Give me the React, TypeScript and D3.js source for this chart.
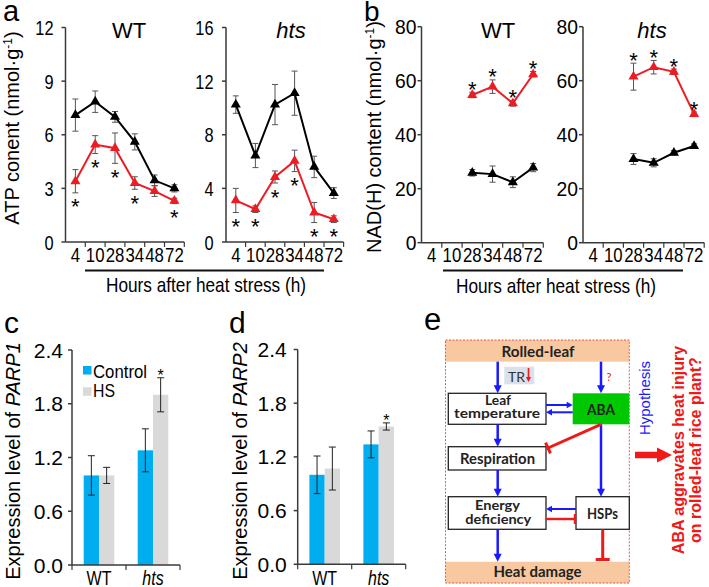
import React from 'react'
import * as d3 from 'd3'

// ---- values ----
const hours = ['4', '10', '28', '34', '48', '72']

// a: ATP content, black = control, red = heat stress
const atpWtCtrl = [7.1, 7.85, 7.0, 5.6, 3.45, 3.0]
const atpWtCtrlErr = [0.9, 0.6, 0.3, 0.45, 0.3, 0.2]
const atpWtHs = [3.4, 5.45, 5.25, 3.3, 2.85, 2.3]
const atpWtHsErr = [0.65, 0.5, 0.85, 0.35, 0.3, 0.15]
const atpWtSig = [1, 1, 1, 1, 0, 1]

const atpHtsCtrl = [10.25, 6.45, 10.25, 11.1, 5.6, 3.65]
const atpHtsCtrlErr = [0.65, 0.9, 1.5, 1.65, 0.8, 0.4]
const atpHtsHs = [3.1, 2.45, 4.85, 6.05, 2.2, 1.7]
const atpHtsHsErr = [0.9, 0.25, 0.45, 0.8, 0.75, 0.25]
const atpHtsSig = [1, 1, 1, 1, 1, 1]

// b: NAD(H) content, only from 28 h on
const nadWtCtrl = [null, null, 25.9, 25.4, 22.4, 27.8]
const nadWtCtrlErr = [0, 0, 1.2, 3, 2, 1.5]
const nadWtHs = [null, null, 54.7, 57.8, 51.6, 62.4]
const nadWtHsErr = [0, 0, 1, 2.5, 1, 1]
const nadWtSig = [0, 0, 1, 1, 1, 1]

const nadHtsCtrl = [null, null, 31, 29.6, 33.3, 35.8]
const nadHtsCtrlErr = [0, 0, 2, 1.5, 0.8, 0.8]
const nadHtsHs = [null, null, 61.5, 65, 63.3, 47.6]
const nadHtsHsErr = [0, 0, 5, 2.5, 1, 0.8]
const nadHtsSig = [0, 0, 1, 1, 1, 1]

const atpWtTicks = [0, 3, 6, 9, 12]
const atpHtsTicks = [0, 4, 8, 12, 16]
const nadTicks = [0, 20, 40, 60, 80]

// c, d: relative expression
const groups = ['WT', 'hts']
const parp1Ctrl = [1.0, 1.28]
const parp1CtrlErr = [0.22, 0.24]
const parp1Hs = [1.0, 1.9]
const parp1HsErr = [0.09, 0.19]
const parp1Sig = [0, 1]
const parp2Ctrl = [1.0, 1.34]
const parp2CtrlErr = [0.21, 0.15]
const parp2Hs = [1.07, 1.54]
const parp2HsErr = [0.24, 0.04]
const parp2Sig = [0, 1]
const exprTicks = [0, 0.6, 1.2, 1.8, 2.4]

const FONT = '"Liberation Sans", Arial, Helvetica, sans-serif'
const DFONT = 'Lato, "Open Sans", sans-serif'
const RED = '#ec1c24'
const AXIS = '#3a3a3a'
const ERR = '#555'
const BAR_BLUE = '#00aeef'
const BAR_GRAY = '#d9d9d9'
const BLUE = '#1a1aff'
const ERED = '#f01818'

function SText({ x, y, size = 21, anchor = 'middle', sx = 1, italic = false, bold = false, fill = '#000', family = FONT, len, children }: any) {
  return (
    <text
      transform={`translate(${x},${y}) scale(${sx},1)`}
      fontSize={size}
      textAnchor={anchor}
      fontStyle={italic ? 'italic' : 'normal'}
      fontWeight={bold ? 'bold' : 'normal'}
      fill={fill}
      fontFamily={family}
      textLength={len}
      lengthAdjust={len ? 'spacingAndGlyphs' : undefined}
    >
      {children}
    </text>
  )
}

// rotated y label, reads bottom to top
function RText({ x, y, size = 20, sy = 1, fill = '#000', bold = false, family = FONT, children }: any) {
  return (
    <text
      transform={`translate(${x},${y}) rotate(-90) scale(1,${sy})`}
      fontSize={size}
      textAnchor="middle"
      fill={fill}
      fontWeight={bold ? 'bold' : 'normal'}
      fontFamily={family}
    >
      {children}
    </text>
  )
}

function LinePanel(p: any) {
  const xEnd = p.x0 + p.band * hours.length
  const x = d3.scaleBand<string>().domain(hours).range([p.x0, xEnd])
  const y = d3.scaleLinear().domain([0, p.yMax]).range([p.yBot, p.yTop])
  const cx = (i: number) => (x(hours[i]) as number) + x.bandwidth() / 2
  const line = d3
    .line<number | null>()
    .defined(v => v != null)
    .x((_, i) => cx(i))
    .y(v => y(v as number))
  const tri = d3.symbol().type(d3.symbolTriangle).size(44)() as string
  const series = [
    { vals: p.ctrl, err: p.ctrlErr, color: '#000' },
    { vals: p.hs, err: p.hsErr, color: RED },
  ]

  return (
    <g>
      <line x1={p.x0} x2={p.x0} y1={p.yTop} y2={p.yBot} stroke={AXIS} strokeWidth={1.5} />
      {p.ticks.map((t: number) => (
        <g key={t}>
          <line x1={p.x0 - 4} x2={p.x0} y1={y(t)} y2={y(t)} stroke={AXIS} strokeWidth={1.5} />
          <SText x={p.x0 - p.tickGap} y={y(t) + 7.5} anchor="end" sx={p.tickSx}>
            {t}
          </SText>
        </g>
      ))}
      <line x1={p.x0} x2={xEnd} y1={p.yBot} y2={p.yBot} stroke={AXIS} strokeWidth={1.5} />
      {hours.map(h => (
        <line key={h} x1={(x(h) as number) + x.bandwidth()} x2={(x(h) as number) + x.bandwidth()} y1={p.yBot} y2={p.yBot + 5} stroke={AXIS} strokeWidth={1.2} />
      ))}
      {hours.map((h, i) => (
        <SText key={h} x={cx(i)} y={262} sx={0.8}>
          {h}
        </SText>
      ))}
      <SText x={p.titleX} y={38} size={22} italic={p.italic}>
        {p.title}
      </SText>

      {series.map((s, si) => (
        <g key={si}>
          {s.vals.map((v: number | null, i: number) =>
            v == null ? null : (
              <g key={i} stroke={ERR} strokeWidth={1}>
                <line x1={cx(i)} x2={cx(i)} y1={y(v - s.err[i])} y2={y(v + s.err[i])} />
                <line x1={cx(i) - 3} x2={cx(i) + 3} y1={y(v - s.err[i])} y2={y(v - s.err[i])} />
                <line x1={cx(i) - 3} x2={cx(i) + 3} y1={y(v + s.err[i])} y2={y(v + s.err[i])} />
              </g>
            )
          )}
        </g>
      ))}
      {series.map((s, si) => (
        <g key={si}>
          <path d={line(s.vals) as string} fill="none" stroke={s.color} strokeWidth={2} />
          {s.vals.map((v: number | null, i: number) =>
            v == null ? null : <path key={i} d={tri} transform={`translate(${cx(i)},${y(v)})`} fill={s.color} />
          )}
        </g>
      ))}
      {p.hs.map((v: number | null, i: number) => {
        if (v == null || !p.sig[i]) return null
        const c = p.sigAbove ? y(v + p.hsErr[i]) - 8 : y(v - p.hsErr[i]) + 9
        return (
          <SText key={i} x={cx(i)} y={c + 12.5} size={22}>
            *
          </SText>
        )
      })}
    </g>
  )
}

function BarPanel(p: any) {
  const xEnd = p.x0 + 108
  const x = d3.scaleBand<string>().domain(groups).range([p.x0, xEnd])
  const inner = d3.scaleBand<string>().domain(['c', 'h']).range([0, 30.6])
  const y = d3.scaleLinear().domain([0, 2.4]).range([p.yBot, p.yTop])
  const fmt = d3.format('.1f')
  const gx = (g: string) => (x(g) as number) + x.bandwidth() / 2
  const sets = [
    { k: 'c', vals: p.ctrl, err: p.ctrlErr, color: BAR_BLUE },
    { k: 'h', vals: p.hs, err: p.hsErr, color: BAR_GRAY },
  ]
  return (
    <g>
      {sets.map(s =>
        groups.map((g, i) => {
          const bx = gx(g) - 15.3 + (inner(s.k) as number)
          return <rect key={s.k + g} x={bx} y={y(s.vals[i])} width={inner.bandwidth()} height={p.yBot - y(s.vals[i])} fill={s.color} />
        })
      )}
      {sets.map(s =>
        groups.map((g, i) => {
          const bx = gx(g) - 15.3 + (inner(s.k) as number) + inner.bandwidth() / 2
          const lo = y(s.vals[i] - s.err[i])
          const hi = y(s.vals[i] + s.err[i])
          return (
            <g key={'e' + s.k + g} stroke="#222" strokeWidth={1}>
              <line x1={bx} x2={bx} y1={lo} y2={hi} />
              <line x1={bx - 3.5} x2={bx + 3.5} y1={lo} y2={lo} />
              <line x1={bx - 3.5} x2={bx + 3.5} y1={hi} y2={hi} />
            </g>
          )
        })
      )}
      {groups.map((g, i) =>
        p.sig[i] ? (
          <SText key={g} x={gx(g) - 15.3 + (inner('h') as number) + inner.bandwidth() / 2} y={y(p.hs[i] + p.hsErr[i]) - 6 + 9} size={16}>
            *
          </SText>
        ) : null
      )}
      <line x1={p.x0} x2={p.x0} y1={p.yTop} y2={p.yBot} stroke={AXIS} strokeWidth={1.5} />
      {exprTicks.map(t => (
        <g key={t}>
          <line x1={p.x0 - 4} x2={p.x0} y1={y(t)} y2={y(t)} stroke={AXIS} strokeWidth={1.5} />
          <SText x={p.x0 - p.tickGap} y={y(t) + 7.5} anchor="end">
            {fmt(t)}
          </SText>
        </g>
      ))}
      <line x1={p.x0} x2={xEnd} y1={p.yBot} y2={p.yBot} stroke={AXIS} strokeWidth={1.5} />
      {[p.x0, p.x0 + 54, xEnd].map(t => (
        <line key={t} x1={t} x2={t} y1={p.yBot} y2={p.yBot + 5} stroke={AXIS} strokeWidth={1.2} />
      ))}
      {groups.map((g, i) => (
        <SText key={g} x={gx(g)} y={585} size={20} sx={0.8} italic={i === 1}>
          {g}
        </SText>
      ))}
    </g>
  )
}

function Arrow({ x1, y1, x2, y2, color = BLUE, w = 2.5, head = 8, hw = 4 }: any) {
  const dx = x2 - x1
  const dy = y2 - y1
  const L = Math.hypot(dx, dy)
  const ux = dx / L
  const uy = dy / L
  const bx = x2 - ux * head
  const by = y2 - uy * head
  const pts = `${x2},${y2} ${bx - uy * hw},${by + ux * hw} ${bx + uy * hw},${by - ux * hw}`
  return (
    <g>
      <line x1={x1} y1={y1} x2={bx + ux} y2={by + uy} stroke={color} strokeWidth={w} />
      <polygon points={pts} fill={color} />
    </g>
  )
}

function Inhibit({ x1, y1, x2, y2, color = ERED, w = 3, bar = 6 }: any) {
  const dx = x2 - x1
  const dy = y2 - y1
  const L = Math.hypot(dx, dy)
  const px = -dy / L
  const py = dx / L
  return (
    <g stroke={color} strokeWidth={w}>
      <line x1={x1} y1={y1} x2={x2} y2={y2} />
      <line x1={x2 - px * bar} y1={y2 - py * bar} x2={x2 + px * bar} y2={y2 + py * bar} />
    </g>
  )
}

function Diagram() {
  const box = { fill: '#fff', stroke: '#222', strokeWidth: 1.3 }
  return (
    <g>
      <rect x={445.5} y={340} width={183.8} height={243} fill="#fff" />
      <rect x={445.5} y={340} width={183.8} height={21.7} fill="#f8c9a0" />
      <rect x={445.5} y={561.7} width={183.8} height={21.5} fill="#f8c9a0" />
      <rect x={445.5} y={340} width={183.8} height={243} fill="none" stroke="#e04848" strokeWidth={0.9} strokeDasharray="2,1.5" />

      <rect x={504.3} y={366.7} width={30} height={17.6} fill="#d9e1ec" />
      <SText x={508} y={381.5} size={14} anchor="start" family={DFONT} fill="#333">TR</SText>
      <Arrow x1={528.5} y1={368} x2={528.5} y2={382} color={ERED} w={1.6} head={5} hw={2.6} />
      <SText x={609} y={381} size={11} family={DFONT} fill={ERED}>?</SText>

      <rect x={448.3} y={393.3} width={97.7} height={31} {...box} />
      <rect x={572.7} y={393.3} width={56.6} height={31} fill="#00c800" />
      <rect x={448.3} y={446.7} width={97.7} height={23.3} {...box} />
      <rect x={448.3} y={496.7} width={97.7} height={32.6} {...box} />
      <rect x={576} y={496.7} width={53.3} height={32.6} {...box} />

      <Arrow x1={497.7} y1={361.7} x2={497.7} y2={393.3} />
      <Arrow x1={601} y1={361.7} x2={601} y2={393.3} />
      <Arrow x1={546} y1={405} x2={572.7} y2={405} w={2} head={6} hw={3.2} />
      <Arrow x1={572.7} y1={412.3} x2={546} y2={412.3} w={2} head={6} hw={3.2} />
      <Arrow x1={497.7} y1={424.3} x2={497.7} y2={446.7} />
      <Arrow x1={601} y1={424.3} x2={601} y2={496.7} />
      <Inhibit x1={601} y1={424.3} x2={548} y2={448} />
      <Arrow x1={497.7} y1={470} x2={497.7} y2={496.7} />
      <Arrow x1={576} y1={509} x2={546} y2={509} w={2} head={6} hw={3.2} />
      <Inhibit x1={546} y1={519} x2={575} y2={519} w={2.4} bar={5} />
      <Arrow x1={497.7} y1={529.3} x2={497.7} y2={561.7} />
      <Inhibit x1={602.7} y1={529.3} x2={602.7} y2={559.5} bar={7} />

      <SText x={538} y={356.5} size={15} bold family={DFONT} len={73} fill="#222">Rolled-leaf</SText>
      <SText x={498} y={405} size={14} bold family={DFONT} len={26} fill="#222">Leaf</SText>
      <SText x={497} y={417.5} size={14} bold family={DFONT} len={86} fill="#222">temperature</SText>
      <SText x={601} y={415} size={15} bold family={DFONT} len={28} fill="#222">ABA</SText>
      <SText x={497.5} y={464.3} size={15} bold family={DFONT} len={75} fill="#222">Respiration</SText>
      <SText x={497.5} y={510} size={14} bold family={DFONT} len={45} fill="#222">Energy</SText>
      <SText x={498.3} y={524} size={14} bold family={DFONT} len={66} fill="#222">deficiency</SText>
      <SText x={602.5} y={519} size={15} bold family={DFONT} len={31} fill="#222">HSPs</SText>
      <SText x={537.5} y={577.3} size={15} bold family={DFONT} len={88} fill="#222">Heat damage</SText>

      <RText x={650} y={398} size={15} fill={BLUE}>Hypothesis</RText>
      <polygon points="635,451.7 657,451.7 657,447.5 672,455 657,462.5 657,458.3 635,458.3" fill={ERED} />
      <RText x={684} y={450} size={16} bold fill={ERED}>ABA aggravates heat injury</RText>
      <RText x={700.5} y={450} size={16} bold fill={ERED}>on rolled-leaf rice plant?</RText>
    </g>
  )
}

export default function App() {
  return (
    <svg width={709} height={587} style={{ position: 'absolute', left: 0, top: 0, background: '#fff' }}>
      <rect width={709} height={587} fill="#fff" />

      {/* a */}
      <SText x={3} y={21} size={29} anchor="start">a</SText>
      <RText x={19} y={128} size={20}>
        ATP conent (nmol·g<tspan dy={-7} fontSize={12}>-1</tspan>
        <tspan dy={7}>)</tspan>
      </RText>
      <LinePanel x0={65.5} band={19.8} yTop={27.5} yBot={242} yMax={12} ticks={atpWtTicks} tickGap={12} tickSx={0.78}
        ctrl={atpWtCtrl} ctrlErr={atpWtCtrlErr} hs={atpWtHs} hsErr={atpWtHsErr} sig={atpWtSig} title="WT" titleX={129} />
      <LinePanel x0={226} band={19.6} yTop={27.5} yBot={242} yMax={16} ticks={atpHtsTicks} tickGap={12.5} tickSx={0.78}
        ctrl={atpHtsCtrl} ctrlErr={atpHtsCtrlErr} hs={atpHtsHs} hsErr={atpHtsHsErr} sig={atpHtsSig} title="hts" italic titleX={291} />
      <line x1={85} x2={324} y1={270.5} y2={270.5} stroke="#111" strokeWidth={2.2} />
      <SText x={106} y={292} anchor="start" len={200}>Hours after heat stress (h)</SText>

      {/* b */}
      <SText x={364} y={21} size={28} anchor="start">b</SText>
      <RText x={381} y={137} size={20}>
        NAD(H) content (nmol·g<tspan dy={-7} fontSize={12}>-1</tspan>
        <tspan dy={7}>)</tspan>
      </RText>
      <LinePanel x0={421.5} band={20.3} yTop={26.7} yBot={242.7} yMax={80} ticks={nadTicks} tickGap={5} tickSx={0.92}
        ctrl={nadWtCtrl} ctrlErr={nadWtCtrlErr} hs={nadWtHs} hsErr={nadWtHsErr} sig={nadWtSig} sigAbove title="WT" titleX={498} />
      <LinePanel x0={583} band={20.2} yTop={26.7} yBot={242.7} yMax={80} ticks={nadTicks} tickGap={5} tickSx={0.92}
        ctrl={nadHtsCtrl} ctrlErr={nadHtsCtrlErr} hs={nadHtsHs} hsErr={nadHtsHsErr} sig={nadHtsSig} sigAbove title="hts" italic titleX={652} />
      <line x1={443} x2={683} y1={270.5} y2={270.5} stroke="#111" strokeWidth={2.2} />
      <SText x={456} y={293} anchor="start" len={200}>Hours after heat stress (h)</SText>

      {/* c */}
      <SText x={4} y={333} size={30} anchor="start">c</SText>
      <RText x={19.5} y={461} size={20}>
        Expression level of <tspan fontStyle="italic">PARP1</tspan>
      </RText>
      <BarPanel x0={72} yTop={350} yBot={565} tickGap={9} ctrl={parp1Ctrl} ctrlErr={parp1CtrlErr} hs={parp1Hs} hsErr={parp1HsErr} sig={parp1Sig} />
      <rect x={83} y={366} width={8.5} height={8.5} fill={BAR_BLUE} />
      <SText x={93} y={377.5} size={19} anchor="start" len={54}>Control</SText>
      <rect x={83} y={387.3} width={8.5} height={8.5} fill={BAR_GRAY} />
      <SText x={93} y={396.5} size={19} anchor="start" len={22}>HS</SText>

      {/* d */}
      <SText x={229} y={333} size={30} anchor="start">d</SText>
      <RText x={247} y={461} size={20}>
        Expression level of <tspan fontStyle="italic">PARP2</tspan>
      </RText>
      <BarPanel x0={297.7} yTop={349.5} yBot={564.3} tickGap={11} ctrl={parp2Ctrl} ctrlErr={parp2CtrlErr} hs={parp2Hs} hsErr={parp2HsErr} sig={parp2Sig} />

      {/* e */}
      <SText x={424} y={330} size={31} anchor="start">e</SText>
      <Diagram />
    </svg>
  )
}
